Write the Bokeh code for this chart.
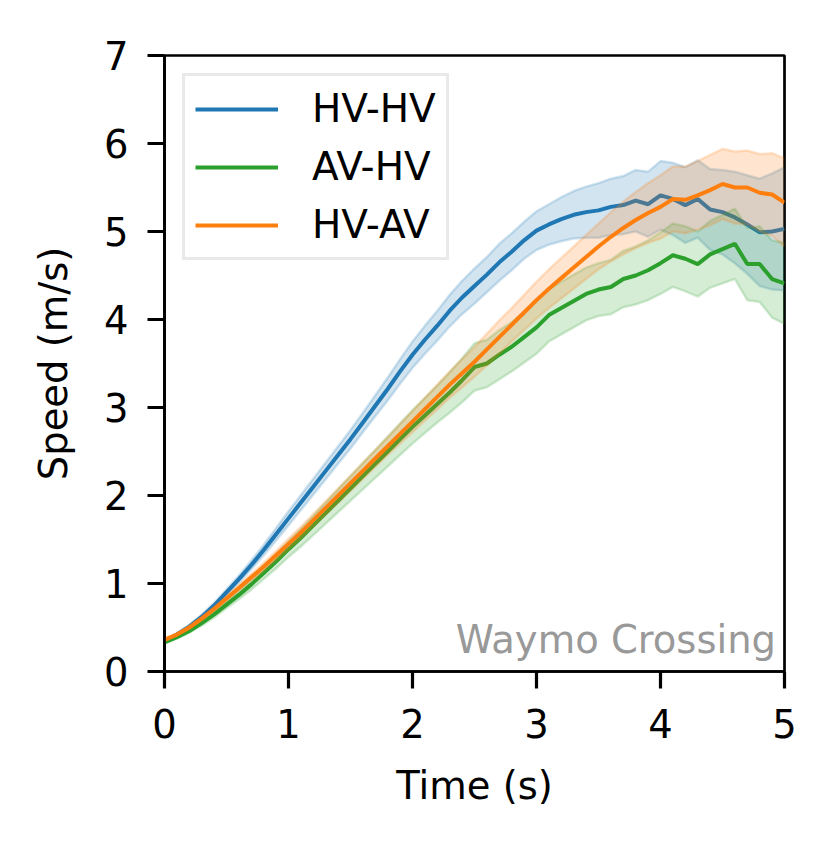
from bokeh.plotting import figure
from bokeh.models import Range1d, FixedTicker, Legend, LegendItem, Label
from bokeh.embed import file_html
from bokeh.resources import INLINE

time_s = [0.0, 0.1, 0.2, 0.3, 0.4, 0.5, 0.6, 0.7, 0.8, 0.9,
          1.0, 1.1, 1.2, 1.3, 1.4, 1.5, 1.6, 1.7, 1.8, 1.9,
          2.0, 2.1, 2.2, 2.3, 2.4, 2.5, 2.6, 2.7, 2.8, 2.9,
          3.0, 3.1, 3.2, 3.3, 3.4, 3.5, 3.6, 3.7, 3.8, 3.9,
          4.0, 4.1, 4.2, 4.3, 4.4, 4.5, 4.6, 4.7, 4.8, 4.9, 5.0]

hv_hv = [0.34, 0.42, 0.51, 0.62, 0.75, 0.90, 1.05, 1.21, 1.38, 1.56,
         1.74, 1.92, 2.10, 2.28, 2.46, 2.64, 2.83, 3.02, 3.21, 3.41,
         3.60, 3.77, 3.93, 4.10, 4.25, 4.38, 4.51, 4.65, 4.77, 4.90,
         5.01, 5.08, 5.14, 5.19, 5.22, 5.24, 5.28, 5.30, 5.35, 5.31,
         5.41, 5.37, 5.30, 5.37, 5.25, 5.22, 5.16, 5.08, 4.99, 5.00, 5.03]
hv_hv_err = [0.01, 0.015, 0.02, 0.025, 0.03, 0.035, 0.04, 0.05, 0.06, 0.07,
             0.08, 0.085, 0.09, 0.095, 0.10, 0.105, 0.11, 0.12, 0.13, 0.14,
             0.15, 0.16, 0.17, 0.18, 0.19, 0.20, 0.20, 0.21, 0.21, 0.21,
             0.22, 0.23, 0.25, 0.27, 0.29, 0.31, 0.32, 0.33, 0.35, 0.37,
             0.39, 0.41, 0.43, 0.44, 0.46, 0.48, 0.52, 0.56, 0.61, 0.66, 0.70]

av_hv = [0.33, 0.39, 0.46, 0.55, 0.65, 0.76, 0.87, 0.99, 1.12, 1.25,
         1.39, 1.52, 1.66, 1.80, 1.94, 2.08, 2.22, 2.36, 2.50, 2.64,
         2.78, 2.91, 3.04, 3.17, 3.31, 3.46, 3.50, 3.60, 3.69, 3.80,
         3.91, 4.05, 4.13, 4.21, 4.29, 4.34, 4.37, 4.46, 4.50, 4.56,
         4.64, 4.73, 4.69, 4.63, 4.74, 4.80, 4.86, 4.63, 4.63, 4.46, 4.41]
av_hv_err = [0.01, 0.015, 0.02, 0.03, 0.035, 0.04, 0.05, 0.06, 0.07, 0.08,
             0.09, 0.10, 0.11, 0.12, 0.13, 0.14, 0.15, 0.16, 0.17, 0.18,
             0.19, 0.20, 0.21, 0.23, 0.25, 0.27, 0.27, 0.28, 0.28, 0.29,
             0.30, 0.30, 0.30, 0.30, 0.30, 0.30, 0.31, 0.32, 0.33, 0.34,
             0.35, 0.36, 0.37, 0.37, 0.38, 0.39, 0.40, 0.41, 0.43, 0.44, 0.46]

hv_av = [0.36, 0.42, 0.50, 0.60, 0.71, 0.83, 0.95, 1.07, 1.19, 1.32,
         1.45, 1.58, 1.72, 1.86, 2.00, 2.14, 2.28, 2.42, 2.56, 2.70,
         2.84, 2.98, 3.12, 3.26, 3.39, 3.52, 3.66, 3.80, 3.94, 4.08,
         4.22, 4.35, 4.47, 4.59, 4.71, 4.83, 4.94, 5.04, 5.13, 5.21,
         5.28, 5.37, 5.36, 5.41, 5.47, 5.54, 5.50, 5.50, 5.44, 5.42, 5.33]
hv_av_err = [0.01, 0.012, 0.015, 0.02, 0.025, 0.03, 0.035, 0.04, 0.045, 0.05,
             0.06, 0.065, 0.07, 0.075, 0.08, 0.085, 0.09, 0.095, 0.10, 0.11,
             0.12, 0.13, 0.14, 0.15, 0.16, 0.17, 0.18, 0.19, 0.19, 0.20,
             0.21, 0.22, 0.23, 0.24, 0.25, 0.26, 0.28, 0.30, 0.32, 0.34,
             0.36, 0.37, 0.38, 0.39, 0.40, 0.40, 0.41, 0.42, 0.44, 0.47, 0.50]

series_names = ["HV-HV", "AV-HV", "HV-AV"]
series_colors = ["#1f77b4", "#2ca02c", "#ff7f0e"]
x_ticks = [0, 1, 2, 3, 4, 5]
y_ticks = [0, 1, 2, 3, 4, 5, 6, 7]

FONT = "DejaVu Sans"
FS = "38.5px"

p = figure(width=820, height=832, output_backend="svg", toolbar_location=None,
           x_range=Range1d(0, 5), y_range=Range1d(0, 7),
           min_border_left=164, min_border_right=36,
           min_border_top=55, min_border_bottom=161)
p.background_fill_color = "white"
p.border_fill_color = "white"
p.outline_line_color = "black"
p.outline_line_width = 2.7
p.grid.visible = False

p.xaxis.axis_label = "Time (s)"
p.yaxis.axis_label = "Speed (m/s)"
p.xaxis.ticker = FixedTicker(ticks=x_ticks)
p.yaxis.ticker = FixedTicker(ticks=y_ticks)
for ax in (p.xaxis, p.yaxis):
    ax.axis_line_width = 2.7
    ax.axis_line_color = "black"
    ax.major_tick_in = 0
    ax.major_tick_out = 17
    ax.major_tick_line_width = 3.2
    ax.minor_tick_line_color = None
    ax.major_label_text_font = FONT
    ax.major_label_text_font_size = FS
    ax.major_label_text_color = "black"
    ax.axis_label_text_font = FONT
    ax.axis_label_text_font_size = FS
    ax.axis_label_text_font_style = "normal"
    ax.axis_label_text_color = "black"
p.xaxis.major_label_standoff = 20
p.yaxis.major_label_standoff = 19
p.xaxis.axis_label_standoff = 22
p.yaxis.axis_label_standoff = 25

renderers = []
for vals, errs, col in [(hv_hv, hv_hv_err, series_colors[0]),
                        (av_hv, av_hv_err, series_colors[1]),
                        (hv_av, hv_av_err, series_colors[2])]:
    lo = [v - e for v, e in zip(vals, errs)]
    hi = [v + e for v, e in zip(vals, errs)]
    p.varea(x=time_s, y1=lo, y2=hi, fill_color=col, fill_alpha=0.2)
    p.line(time_s, lo, line_color=col, line_alpha=0.2, line_width=2.5)
    p.line(time_s, hi, line_color=col, line_alpha=0.2, line_width=2.5)
    r = p.line(time_s, vals, line_color=col, line_width=4)
    renderers.append(r)

legend = Legend(items=[LegendItem(label=n, renderers=[r]) for n, r in zip(series_names, renderers)],
                location="top_left")
legend.margin = 18
legend.padding = 10
legend.spacing = 13
legend.glyph_width = 83
legend.glyph_height = 40
legend.label_height = 40
legend.label_standoff = 34
legend.label_text_font = FONT
legend.label_text_font_size = "39px"
legend.label_text_color = "black"
legend.border_line_color = "#d4d4d4"
legend.border_line_width = 3
legend.background_fill_color = "white"
legend.background_fill_alpha = 0.8
p.add_layout(legend, "center")

lbl = Label(x=5, y=0, x_offset=-8.5, y_offset=32, text="Waymo Crossing",
            text_align="right", text_baseline="alphabetic",
            text_font=FONT, text_font_size=FS, text_color="#999999")
p.add_layout(lbl)

open("out.html", "w").write(file_html(p, INLINE))
